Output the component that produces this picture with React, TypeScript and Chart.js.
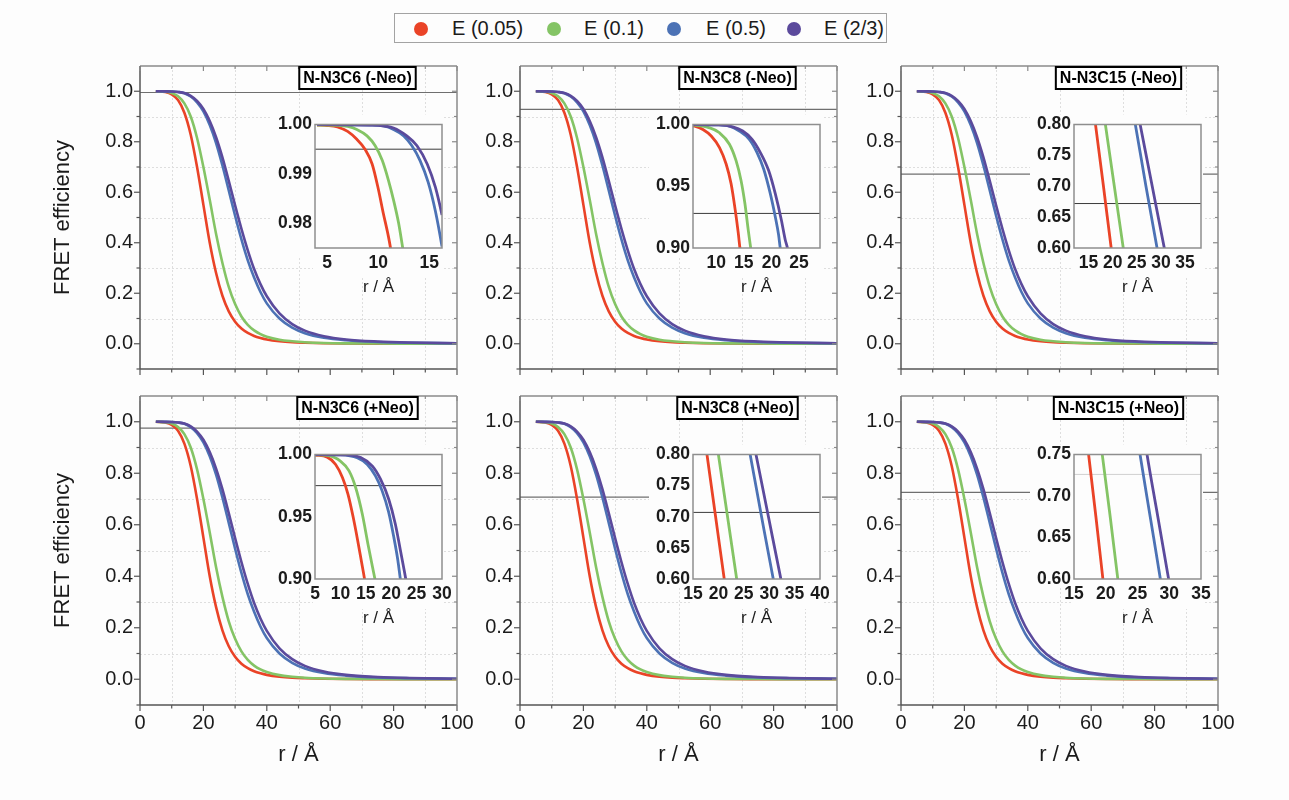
import React, { useEffect, useRef } from 'react';
import { Chart, registerables } from 'chart.js';

Chart.register(...registerables);

const FONT = "'Liberation Sans', Arial, Helvetica, sans-serif";
const INK = '#1b1b1b';
const BG = '#fdfdfd';

// ---------------- data ----------------
const SERIES_NAMES = ['E (0.05)', 'E (0.1)', 'E (0.5)', 'E (2/3)'];
const SERIES_COLORS = ['#ea4327', '#84c465', '#4c72b5', '#5b4a9c'];

const R_MAIN = [5, 8, 10, 12, 14, 16, 18, 20, 22, 24, 26, 28, 30, 32, 34, 36, 38, 40, 44, 48, 52, 58, 65, 75, 85, 100];
const E005_MAIN = [1.0, 0.997, 0.988, 0.965, 0.915, 0.828, 0.70, 0.55, 0.40, 0.28, 0.19, 0.128, 0.087, 0.060, 0.043, 0.031, 0.023, 0.017, 0.010, 0.006, 0.004, 0.002, 0.001, 0.0005, 0.0003, 0.0001];
const E01_MAIN = [1.0, 0.998, 0.993, 0.980, 0.952, 0.90, 0.815, 0.70, 0.57, 0.435, 0.32, 0.225, 0.157, 0.108, 0.075, 0.053, 0.038, 0.028, 0.016, 0.010, 0.006, 0.003, 0.0015, 0.0007, 0.0004, 0.0002];
const E05_MAIN = [1.0, 0.9997, 0.999, 0.997, 0.992, 0.979, 0.956, 0.92, 0.866, 0.795, 0.706, 0.607, 0.507, 0.413, 0.33, 0.262, 0.205, 0.16, 0.10, 0.064, 0.042, 0.024, 0.014, 0.007, 0.004, 0.002];
const E23_MAIN = [1.0, 0.9997, 0.999, 0.997, 0.993, 0.982, 0.962, 0.93, 0.882, 0.818, 0.738, 0.645, 0.548, 0.455, 0.37, 0.296, 0.236, 0.188, 0.12, 0.078, 0.052, 0.03, 0.017, 0.009, 0.005, 0.002];
const MAIN_SERIES = [E005_MAIN, E01_MAIN, E05_MAIN, E23_MAIN];

const PANEL_TITLES = ['N-N3C6 (-Neo)', 'N-N3C8 (-Neo)', 'N-N3C15 (-Neo)', 'N-N3C6 (+Neo)', 'N-N3C8 (+Neo)', 'N-N3C15 (+Neo)'];
const REF_E = [0.995, 0.928, 0.672, 0.975, 0.707, 0.726];

const MAIN_X_TICKS = [0, 20, 40, 60, 80, 100];
const MAIN_X_MINOR = [10, 30, 50, 70, 90];
const MAIN_Y_TICKS = [0, 0.2, 0.4, 0.6, 0.8, 1.0];
const MAIN_Y_MINOR = [-0.1, 0.1, 0.3, 0.5, 0.7, 0.9];

const INSET_X_RANGES = [[3.8, 16.25], [5.8, 28.8], [12, 38.3], [5, 30], [15, 40], [15, 35]];
const INSET_Y_RANGES = [[0.975, 1.0], [0.9, 1.0], [0.6, 0.8], [0.9, 1.0], [0.6, 0.8], [0.6, 0.75]];
const INSET_X_TICKS = [[5, 10, 15], [10, 15, 20, 25], [15, 20, 25, 30, 35], [5, 10, 15, 20, 25, 30], [15, 20, 25, 30, 35, 40], [15, 20, 25, 30, 35]];
const INSET_Y_TICKS = [[0.98, 0.99, 1.0], [0.9, 0.95, 1.0], [0.6, 0.65, 0.7, 0.75, 0.8], [0.9, 0.95, 1.0], [0.6, 0.65, 0.7, 0.75, 0.8], [0.6, 0.65, 0.7, 0.75]];

// inset curves, [r, E]
const C6M_E005 = [[4, 0.9999], [5, 0.9998], [6, 0.9995], [7, 0.9986], [7.9, 0.997], [8.7, 0.995], [9.4, 0.992], [10, 0.987], [10.5, 0.982], [11, 0.9773], [11.5, 0.9715]];
const C6M_E01 = [[4, 0.9999], [5, 0.9999], [7, 0.9996], [7.9, 0.999], [8.9, 0.9977], [9.7, 0.9957], [10.4, 0.9927], [11, 0.9887], [11.5, 0.9847], [12, 0.98], [12.4, 0.975], [12.8, 0.97]];
const C6M_E05 = [[4, 1.0], [9.2, 0.9999], [10.5, 0.9997], [11.5, 0.999], [12.5, 0.9977], [13.3, 0.9957], [14.1, 0.9927], [14.9, 0.9883], [15.6, 0.9825], [16.25, 0.9753], [16.8, 0.968]];
const C6M_E23 = [[4, 1.0], [9.2, 0.9999], [11.5, 0.9993], [12.8, 0.9977], [13.8, 0.9957], [14.8, 0.992], [15.6, 0.9873], [16.25, 0.9817], [16.8, 0.976]];

const C8M_E005 = [[5, 0.9995], [6.1, 0.9987], [7.6, 0.996], [9.1, 0.9907], [10.6, 0.9813], [11.8, 0.968], [12.7, 0.952], [13.45, 0.9307], [14.0, 0.912], [14.3, 0.9], [14.8, 0.885]];
const C8M_E01 = [[5, 0.9998], [6.1, 0.9995], [8.8, 0.9973], [10.6, 0.9933], [12.4, 0.984], [13.6, 0.9707], [14.5, 0.9547], [15.2, 0.936], [15.8, 0.9147], [16.25, 0.9], [16.8, 0.882]];
const C8M_E05 = [[5, 1.0], [10, 0.9997], [12.4, 0.9987], [14.2, 0.9947], [16, 0.988], [17.4, 0.9773], [18.6, 0.964], [19.8, 0.944], [20.7, 0.9253], [21.3, 0.9107], [21.6, 0.9], [22.2, 0.886]];
const C8M_E23 = [[5, 1.0], [10.5, 0.9997], [13, 0.9981], [14.8, 0.9947], [16.5, 0.988], [18, 0.9773], [19.5, 0.9627], [20.7, 0.944], [21.8, 0.9227], [22.5, 0.9067], [22.9, 0.9], [23.4, 0.888]];

const C15M_E005 = [[15.9, 0.833], [16.45, 0.8], [18.1, 0.7], [19.7, 0.6], [20.2, 0.57]];
const C15M_E01 = [[17.9, 0.833], [18.5, 0.8], [20.35, 0.7], [22.2, 0.6], [22.7, 0.573]];
const C15M_E05 = [[23.9, 0.834], [24.7, 0.8], [26.9, 0.7], [29.2, 0.6], [29.9, 0.572]];
const C15M_E23 = [[24.9, 0.832], [25.7, 0.8], [28.2, 0.7], [30.7, 0.6], [31.4, 0.573]];

const C6P_E005 = [[5, 0.9995], [7.4, 0.9979], [9.06, 0.992], [10.4, 0.9815], [11.5, 0.968], [12.5, 0.95], [13.4, 0.931], [14.1, 0.915], [14.75, 0.9], [15.2, 0.888]];
const C6P_E01 = [[5, 0.9998], [7.4, 0.9992], [10, 0.9947], [11.7, 0.9868], [13, 0.9735], [14.3, 0.9524], [15.4, 0.9286], [16.3, 0.91], [16.8, 0.9], [17.3, 0.889]];
const C6P_E05 = [[5, 1.0], [10, 0.9997], [13.3, 0.9974], [15.3, 0.992], [16.9, 0.9828], [18.2, 0.971], [19.5, 0.9537], [20.5, 0.9339], [21.3, 0.9153], [21.8, 0.9], [22.3, 0.886]];
const C6P_E23 = [[5, 1.0], [10.6, 0.9997], [14, 0.9976], [16.3, 0.9907], [17.9, 0.9802], [19.5, 0.9643], [20.8, 0.9444], [21.8, 0.9233], [22.6, 0.906], [23.4, 0.888]];

const C8P_E005 = [[17.2, 0.832], [17.75, 0.8], [19.45, 0.7], [21.15, 0.6], [21.6, 0.575]];
const C8P_E01 = [[19.4, 0.833], [20.0, 0.8], [21.8, 0.7], [23.6, 0.6], [24.1, 0.573]];
const C8P_E05 = [[25.5, 0.833], [26.25, 0.8], [28.5, 0.7], [30.8, 0.6], [31.5, 0.572]];
const C8P_E23 = [[26.6, 0.832], [27.4, 0.8], [29.85, 0.7], [32.3, 0.6], [33.0, 0.573]];

const C15P_E005 = [[16.8, 0.78], [17.3, 0.75], [18.45, 0.675], [19.55, 0.6], [20.0, 0.57]];
const C15P_E01 = [[18.9, 0.78], [19.45, 0.75], [20.7, 0.675], [21.9, 0.6], [22.4, 0.57]];
const C15P_E05 = [[24.8, 0.78], [25.4, 0.75], [27.0, 0.675], [28.6, 0.6], [29.2, 0.57]];
const C15P_E23 = [[25.9, 0.78], [26.5, 0.75], [28.2, 0.675], [29.9, 0.6], [30.6, 0.57]];

const INSET_SERIES = [
  [C6M_E005, C6M_E01, C6M_E05, C6M_E23],
  [C8M_E005, C8M_E01, C8M_E05, C8M_E23],
  [C15M_E005, C15M_E01, C15M_E05, C15M_E23],
  [C6P_E005, C6P_E01, C6P_E05, C6P_E23],
  [C8P_E005, C8P_E01, C8P_E05, C8P_E23],
  [C15P_E005, C15P_E01, C15P_E05, C15P_E23],
];

// ---------------- layout ----------------
const COL_LEFT = [140, 520, 901];
const PLOT_W = 317;
const ROW_TOP = [61, 391];
const ROW_H = [313, 314];
const INSET_LEFT = [315, 693, 1074];
const INSET_W = 127;
const INSET_TOP = [123, 453];
const INSET_H = [125, 126];
const TITLE_OFFSET = 217.5;
const LEGEND_BOX = { left: 394, top: 13, width: 493, height: 30 };
const LEGEND_ITEMS = [{ cx: 420, tx: 451 }, { cx: 553, tx: 583 }, { cx: 673, tx: 705 }, { cx: 793, tx: 823 }];

function line(ctx: CanvasRenderingContext2D, x1: number, y1: number, x2: number, y2: number) {
  ctx.beginPath();
  ctx.moveTo(x1, y1);
  ctx.lineTo(x2, y2);
  ctx.stroke();
}

function MainPanel({ idx }: { idx: number }) {
  const ref = useRef<HTMLCanvasElement>(null);
  const row = Math.floor(idx / 3);
  const col = idx % 3;
  const isBottom = row === 1;
  const isLeft = col === 0;
  const AXW = isLeft ? 90 : 60;
  const AXH = isBottom ? 70 : 14;
  const PT = 14;
  const PR = 24;
  const left = COL_LEFT[col] - AXW;
  const top = ROW_TOP[row] - PT;
  const width = AXW + PLOT_W + PR;
  const height = PT + ROW_H[row] + AXH;

  useEffect(() => {
    const decor = {
      id: 'mainDecor',
      beforeDatasetsDraw(chart: any) {
        const { ctx, chartArea: a, scales } = chart;
        const x = scales.x, y = scales.y;
        ctx.save();
        ctx.strokeStyle = '#dedede';
        ctx.lineWidth = 1;
        ctx.setLineDash([2, 2]);
        MAIN_X_MINOR.forEach((v) => {
          const px = Math.round(x.getPixelForValue(v)) + 0.5;
          line(ctx, px, a.top, px, a.bottom);
        });
        MAIN_Y_MINOR.forEach((v) => {
          if (v < 0) return;
          const py = Math.round(y.getPixelForValue(v)) + 0.5;
          line(ctx, a.left, py, a.right, py);
        });
        ctx.restore();
      },
      afterDatasetsDraw(chart: any) {
        const { ctx, chartArea: a, scales } = chart;
        const x = scales.x, y = scales.y;
        ctx.save();
        // frame
        ctx.lineWidth = 1.5;
        ctx.strokeStyle = '#8a8a8a';
        line(ctx, a.left, a.top, a.right, a.top);
        line(ctx, a.right, a.top, a.right, a.bottom);
        ctx.strokeStyle = '#555';
        line(ctx, a.left, a.top, a.left, a.bottom);
        line(ctx, a.left, a.bottom, a.right, a.bottom);
        // ticks
        ctx.lineWidth = 1.2;
        ctx.strokeStyle = '#555';
        MAIN_X_TICKS.forEach((v) => {
          const px = x.getPixelForValue(v);
          line(ctx, px, a.bottom, px, a.bottom + 6);
        });
        MAIN_X_MINOR.forEach((v) => {
          const px = x.getPixelForValue(v);
          line(ctx, px, a.bottom, px, a.bottom + 3.5);
        });
        MAIN_Y_TICKS.forEach((v) => {
          const py = y.getPixelForValue(v);
          line(ctx, a.left - 6, py, a.left, py);
        });
        MAIN_Y_MINOR.forEach((v) => {
          const py = y.getPixelForValue(v);
          line(ctx, a.left - 3.5, py, a.left, py);
        });
        ctx.strokeStyle = '#8a8a8a';
        MAIN_Y_TICKS.forEach((v) => {
          const py = y.getPixelForValue(v);
          line(ctx, a.right - 5, py, a.right, py);
        });
        MAIN_Y_MINOR.forEach((v) => {
          const py = y.getPixelForValue(v);
          line(ctx, a.right - 3, py, a.right, py);
        });
        MAIN_X_TICKS.forEach((v) => {
          const px = x.getPixelForValue(v);
          line(ctx, px, a.top, px, a.top + 5);
        });
        MAIN_X_MINOR.forEach((v) => {
          const px = x.getPixelForValue(v);
          line(ctx, px, a.top, px, a.top + 3);
        });
        // title box
        const title = PANEL_TITLES[idx];
        ctx.font = `bold 16px ${FONT}`;
        const tw = ctx.measureText(title).width;
        const cx = a.left + TITLE_OFFSET;
        const bw = tw + 8;
        const bh = 23;
        ctx.fillStyle = '#ffffff';
        ctx.fillRect(cx - bw / 2, a.top, bw, bh);
        ctx.strokeStyle = '#000';
        ctx.lineWidth = 2;
        ctx.strokeRect(cx - bw / 2, a.top + 1, bw, bh - 1);
        ctx.fillStyle = '#000';
        ctx.textAlign = 'center';
        ctx.textBaseline = 'middle';
        ctx.fillText(title, cx, a.top + bh / 2 + 1);
        ctx.restore();
      },
    };

    const datasets: any[] = [
      {
        label: 'ref',
        data: [{ x: 0, y: REF_E[idx] }, { x: 100, y: REF_E[idx] }],
        borderColor: '#6f6f6f',
        borderWidth: 1.2,
        pointRadius: 0,
        order: 10,
      },
    ];
    MAIN_SERIES.forEach((s, i) => {
      datasets.push({
        label: SERIES_NAMES[i],
        data: R_MAIN.map((r, k) => ({ x: r, y: s[k] })),
        borderColor: SERIES_COLORS[i],
        borderWidth: 2.6,
        pointRadius: 0,
        cubicInterpolationMode: 'monotone',
        order: 3 - i,
      });
    });

    const chart = new Chart(ref.current as HTMLCanvasElement, {
      type: 'line',
      data: { datasets },
      options: {
        animation: false,
        responsive: false,
        maintainAspectRatio: false,
        events: [],
        layout: { padding: { top: PT, right: PR, left: 0, bottom: 0 } },
        plugins: { legend: { display: false }, tooltip: { enabled: false } },
        scales: {
          x: {
            type: 'linear',
            min: 0,
            max: 100,
            afterBuildTicks: (s: any) => { s.ticks = MAIN_X_TICKS.map((v) => ({ value: v })); },
            afterFit: (s: any) => { s.height = AXH; },
            grid: { display: false, drawTicks: false },
            border: { display: false },
            ticks: {
              display: isBottom,
              autoSkip: false,
              maxRotation: 0,
              padding: 6,
              color: INK,
              font: { family: FONT, size: 20 },
              callback: (v: any) => String(v),
            },
            title: {
              display: isBottom,
              text: 'r / Å',
              color: INK,
              font: { family: FONT, size: 22 },
              padding: { top: 0, bottom: 7 },
            },
          },
          y: {
            type: 'linear',
            min: -0.1,
            max: 1.1,
            afterBuildTicks: (s: any) => { s.ticks = MAIN_Y_TICKS.map((v) => ({ value: v })); },
            afterFit: (s: any) => { s.width = AXW; },
            grid: { display: false, drawTicks: false },
            border: { display: false },
            ticks: {
              autoSkip: false,
              padding: 7,
              color: INK,
              font: { family: FONT, size: 20 },
              callback: (v: any) => Number(v).toFixed(1),
            },
            title: {
              display: isLeft,
              text: 'FRET efficiency',
              color: INK,
              font: { family: FONT, size: 22 },
              padding: { top: 0, bottom: 0 },
            },
          },
        },
      } as any,
      plugins: [decor],
    });
    return () => chart.destroy();
  }, []);

  return (
    <canvas
      ref={ref}
      width={width}
      height={height}
      style={{ position: 'absolute', left, top, width, height, display: 'block' }}
    />
  );
}

function InsetPanel({ idx }: { idx: number }) {
  const ref = useRef<HTMLCanvasElement>(null);
  const row = Math.floor(idx / 3);
  const col = idx % 3;
  const AXW = 56;
  const AXH = 56;
  const PT = 12;
  const PR = 16;
  const left = INSET_LEFT[col] - AXW;
  const top = INSET_TOP[row] - PT;
  const width = AXW + INSET_W + PR;
  const height = PT + INSET_H[row] + AXH;
  const [xmin, xmax] = INSET_X_RANGES[idx];
  const [ymin, ymax] = INSET_Y_RANGES[idx];

  useEffect(() => {
    const decor = {
      id: 'insetDecor',
      beforeDraw(chart: any) {
        const { ctx, chartArea: a } = chart;
        ctx.save();
        ctx.fillStyle = BG;
        ctx.fillRect(a.left - 44, a.top - 10, a.right - a.left + 46, a.bottom - a.top + 18);
        ctx.fillRect(a.left - 2, a.bottom, a.right - a.left + 4, 30);
        ctx.restore();
      },
      afterDatasetsDraw(chart: any) {
        const { ctx, chartArea: a } = chart;
        ctx.save();
        ctx.lineWidth = 1.5;
        ctx.strokeStyle = '#8e8e8e';
        ctx.strokeRect(a.left, a.top, a.right - a.left, a.bottom - a.top);
        ctx.restore();
      },
    };

    const faint = idx === 5;
    const datasets: any[] = [
      {
        label: 'ref',
        data: [{ x: xmin, y: REF_E[idx] }, { x: xmax, y: REF_E[idx] }],
        borderColor: faint ? '#d0d0d0' : '#3a3a3a',
        borderWidth: 1,
        pointRadius: 0,
        order: 10,
        clip: 0,
      },
    ];
    INSET_SERIES[idx].forEach((s, i) => {
      datasets.push({
        label: SERIES_NAMES[i],
        data: s.map(([r, e]) => ({ x: r, y: e })),
        borderColor: SERIES_COLORS[i],
        borderWidth: 2.8,
        pointRadius: 0,
        cubicInterpolationMode: 'monotone',
        order: 3 - i,
        clip: 0,
      });
    });

    const chart = new Chart(ref.current as HTMLCanvasElement, {
      type: 'line',
      data: { datasets },
      options: {
        animation: false,
        responsive: false,
        maintainAspectRatio: false,
        events: [],
        layout: { padding: { top: PT, right: PR, left: 0, bottom: 0 } },
        plugins: { legend: { display: false }, tooltip: { enabled: false } },
        scales: {
          x: {
            type: 'linear',
            min: xmin,
            max: xmax,
            afterBuildTicks: (s: any) => { s.ticks = INSET_X_TICKS[idx].map((v) => ({ value: v })); },
            afterFit: (s: any) => { s.height = AXH; },
            grid: { display: false, drawTicks: false },
            border: { display: false },
            ticks: {
              autoSkip: false,
              maxRotation: 0,
              padding: 5,
              color: INK,
              font: { family: FONT, size: 17.5, weight: 'bold' },
              callback: (v: any) => String(v),
            },
            title: {
              display: true,
              text: 'r / Å',
              color: INK,
              font: { family: FONT, size: 17 },
              padding: { top: 0, bottom: 6 },
            },
          },
          y: {
            type: 'linear',
            min: ymin,
            max: ymax,
            afterBuildTicks: (s: any) => { s.ticks = INSET_Y_TICKS[idx].map((v) => ({ value: v })); },
            afterFit: (s: any) => { s.width = AXW; },
            grid: { display: false, drawTicks: false },
            border: { display: false },
            ticks: {
              autoSkip: false,
              padding: 3,
              color: INK,
              font: { family: FONT, size: 17.5, weight: 'bold' },
              callback: (v: any) => Number(v).toFixed(2),
            },
          },
        },
      } as any,
      plugins: [decor],
    });
    return () => chart.destroy();
  }, []);

  return (
    <canvas
      ref={ref}
      width={width}
      height={height}
      style={{ position: 'absolute', left, top, width, height, display: 'block' }}
    />
  );
}

function Legend() {
  return (
    <div
      style={{
        position: 'absolute',
        left: LEGEND_BOX.left,
        top: LEGEND_BOX.top,
        width: LEGEND_BOX.width,
        height: LEGEND_BOX.height,
        border: '1px solid #a3a3a3',
        boxSizing: 'border-box',
        background: BG,
      }}
    >
      {SERIES_NAMES.map((name, i) => (
        <React.Fragment key={name}>
          <div
            style={{
              position: 'absolute',
              left: LEGEND_ITEMS[i].cx - LEGEND_BOX.left - 7,
              top: 8,
              width: 14,
              height: 14,
              borderRadius: '50%',
              background: SERIES_COLORS[i],
            }}
          />
          <div
            style={{
              position: 'absolute',
              left: LEGEND_ITEMS[i].tx - LEGEND_BOX.left,
              top: 0,
              height: 28,
              lineHeight: '28px',
              fontFamily: FONT,
              fontSize: 20,
              color: INK,
              whiteSpace: 'nowrap',
            }}
          >
            {name}
          </div>
        </React.Fragment>
      ))}
    </div>
  );
}

export default function App() {
  const idxs = [0, 1, 2, 3, 4, 5];
  return (
    <div
      style={{
        position: 'fixed',
        left: 0,
        top: 0,
        width: 1289,
        height: 800,
        background: BG,
        overflow: 'hidden',
      }}
    >
      <Legend />
      {idxs.map((i) => <MainPanel key={'m' + i} idx={i} />)}
      {idxs.map((i) => <InsetPanel key={'i' + i} idx={i} />)}
    </div>
  );
}
